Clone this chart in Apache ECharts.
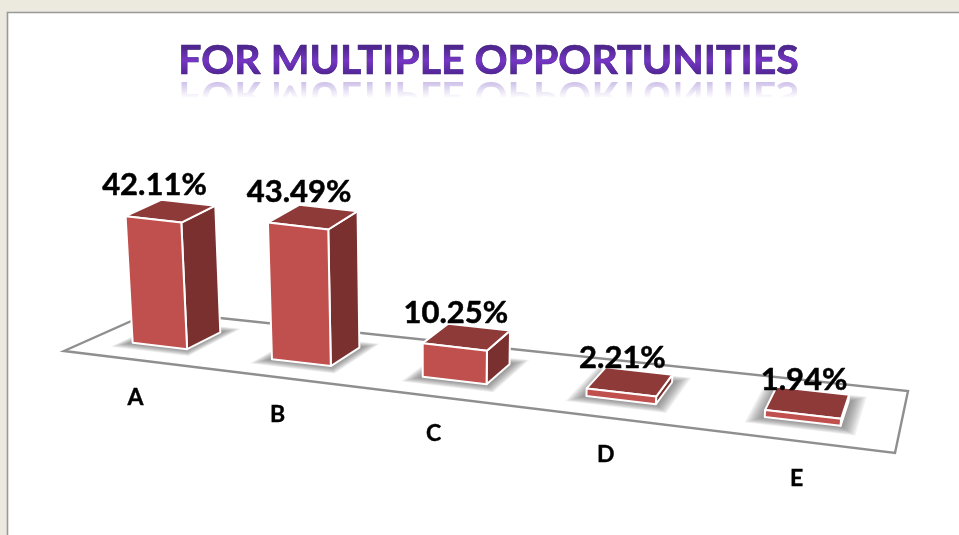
<!DOCTYPE html>
<html>
<head>
<meta charset="utf-8">
<style>html,body{margin:0;padding:0;background:#ECE9DF;overflow:hidden}#c{width:959px;height:535px}</style>
<script src="https://cdn.jsdelivr.net/npm/echarts@6/dist/echarts.min.js"></script>
</head>
<body>
<div id="c"></div>
<script>
var titleText = 'FOR MULTIPLE OPPORTUNITIES';
var categories = ['A', 'B', 'C', 'D', 'E'];
var values = [42.11, 43.49, 10.25, 2.21, 1.94];

// Perspective floor: unit square (u along the axis, w into the depth) to the screen
var FL = [64, 351], FR = [895, 453], BR = [908, 391], BL = [154, 311];
var GRID = {left: 100, top: 100, width: 800, height: 310};
var BAR_FRACTION = 0.4, W0 = 0.30, W1 = 0.70, VANISH_X = 431, LEAN = 0.000187, CURVE = 0.03;

var dx1 = FR[0]-BR[0], dx2 = BL[0]-BR[0], sx = FL[0]-FR[0]+BR[0]-BL[0];
var dy1 = FR[1]-BR[1], dy2 = BL[1]-BR[1], sy = FL[1]-FR[1]+BR[1]-BL[1];
var den = dx1*dy2-dx2*dy1;
var g = (sx*dy2-dx2*sy)/den, h = (dx1*sy-sx*dy1)/den;
var a = FR[0]-FL[0]+g*FR[0], b = BL[0]-FL[0]+h*BL[0];
var d = FR[1]-FL[1]+g*FR[1], e = BL[1]-FL[1]+h*BL[1];
function denom(u,w){return g*u+h*w+1;}
function floorPt(u,w){var q=denom(u,w);return [(a*u+b*w+FL[0])/q,(d*u+e*w+FL[1])/q];}
function warp(u){return u+CURVE*u*(1-u);}
function raise(p,hgt){return [p[0]+(p[0]-VANISH_X)*LEAN*hgt,p[1]-hgt];}

var TEXT_FONT='Lato';
var TITLE_SIZE=41;
var TITLE_X=488.5, TITLE_Y=61, MIRROR_AXIS=78;

function vGrad(stops){
  return {type:'linear',x:0,y:0,x2:0,y2:1,colorStops:stops.map(function(s){return {offset:s[0],color:s[1]};})};
}
function renderFloor(params,api){
  return {type:'group',children:[
    {type:'polygon',shape:{points:[FL,FR,BR,BL]},
      style:{fill:'#fff',stroke:'#8f8f8f',lineWidth:2.4,lineJoin:'miter'},silent:true},
    {type:'text',silent:true,style:{text:titleText,x:TITLE_X,y:TITLE_Y,align:'center',verticalAlign:'middle',
      font:'bold '+TITLE_SIZE+'px '+TEXT_FONT,fill:'#3a1a70',stroke:'#3a1a70',lineWidth:0.7}},
    {type:'text',silent:true,x:TITLE_X,y:2*MIRROR_AXIS-TITLE_Y,scaleY:-1,style:{text:titleText,x:0,y:0,align:'center',verticalAlign:'middle',
      font:'bold '+TITLE_SIZE+'px '+TEXT_FONT,fill:'rgba(110,70,190,0.4)'}},
    {type:'rect',silent:true,shape:{x:170,y:MIRROR_AXIS+1,width:640,height:32},
      style:{fill:vGrad([[0,'rgba(255,255,255,0)'],[0.6,'rgba(255,255,255,1)'],[1,'rgba(255,255,255,1)']])}}
  ]};
}
// gradient that only lightens the dark glyph pixels of the title
function renderTitleSheen(params,api){
  return {type:'rect',silent:true,shape:{x:170,y:42,width:640,height:37},
    style:{fill:vGrad([[0,'#4E248F'],[0.15,'#50268F'],[0.5,'#7636C4'],[0.9,'#4E248F'],[1,'#4E248F']])}};
}
function softShadow(u0,u1){
  var layers=[],n=10;
  for(var k=n;k>=0;k--){
    var du=0.0017*k,dw=0.012*k;
    layers.push({type:'polygon',silent:true,
      shape:{points:[floorPt(u0-du,W0-dw),floorPt(u1+du,W0-dw),floorPt(u1+du,W1+dw),floorPt(u0-du,W1+dw)]},
      style:{fill:'rgba(90,90,90,0.09)'}});
  }
  return layers;
}
function renderBar(params,api){
  var i=api.value(0), v=api.value(1);
  var cx=api.coord([i,0])[0], band=api.size([1,0])[0];
  var uc=(cx-GRID.left)/GRID.width, hw=band*BAR_FRACTION/2/GRID.width;
  var u0=warp(uc-hw),u1=warp(uc+hw);
  var px=api.size([0,v])[1];
  var H=px/denom(uc,0.5);
  var f0=floorPt(u0,W0),f1=floorPt(u1,W0),b1=floorPt(u1,W1),b0=floorPt(u0,W1);
  var t0=raise(f0,H),t1=raise(f1,H),t2=raise(b1,H),t3=raise(b0,H);
  var edge={stroke:'#fff',lineWidth:2,lineJoin:'round'};
  var front=floorPt(uc,0);
  var topMid=[(t0[0]+t1[0])/2,(t0[1]+t1[1])/2];
  return {type:'group',children:softShadow(u0,u1).concat([
    {type:'polygon',shape:{points:[f1,b1,t2,t1]},style:Object.assign({fill:'#7A302E'},edge)},
    {type:'polygon',shape:{points:[t0,t1,t2,t3]},style:Object.assign({fill:'#8E3A39'},edge)},
    {type:'polygon',shape:{points:[f0,f1,t1,t0]},style:Object.assign({fill:'#C0504D'},edge)},
    {type:'text',z2:10,style:{text:v.toFixed(2)+'%',x:topMid[0]+1,y:topMid[1]-34,align:'center',verticalAlign:'middle',
      font:'bold 31px '+TEXT_FONT,fill:'#000',stroke:'#000',lineWidth:0.5}},
    {type:'text',z2:10,style:{text:categories[i],x:front[0]+5,y:front[1]+38,align:'center',verticalAlign:'middle',
      font:'bold 23px '+TEXT_FONT,fill:'#000',stroke:'#000',lineWidth:0.4}}
  ])};
}

var chart=echarts.init(document.getElementById('c'),null,{renderer:'canvas'});
chart.setOption({
  animation:false,
  backgroundColor:'#ECE9DF',
  grid:GRID,
  xAxis:{type:'category',data:categories,show:false},
  yAxis:{type:'value',min:0,max:100,show:false},
  graphic:[
    {type:'rect',z:-1,silent:true,shape:{x:7.5,y:12.5,width:1000,height:600},style:{fill:'#fff',stroke:'#999',lineWidth:1.6}}
  ],
  series:[
    {type:'custom',z:1,coordinateSystem:'cartesian2d',renderItem:renderFloor,data:[[0,0]],silent:true},
    {type:'custom',z:2,coordinateSystem:'cartesian2d',renderItem:renderTitleSheen,data:[[0,0]],silent:true,blendMode:'lighten'},
    {type:'custom',z:3,coordinateSystem:'cartesian2d',renderItem:renderBar,encode:{x:0,y:1},
      data:values.map(function(v,i){return [i,v];})}
  ]
});
</script>
</body>
</html>
